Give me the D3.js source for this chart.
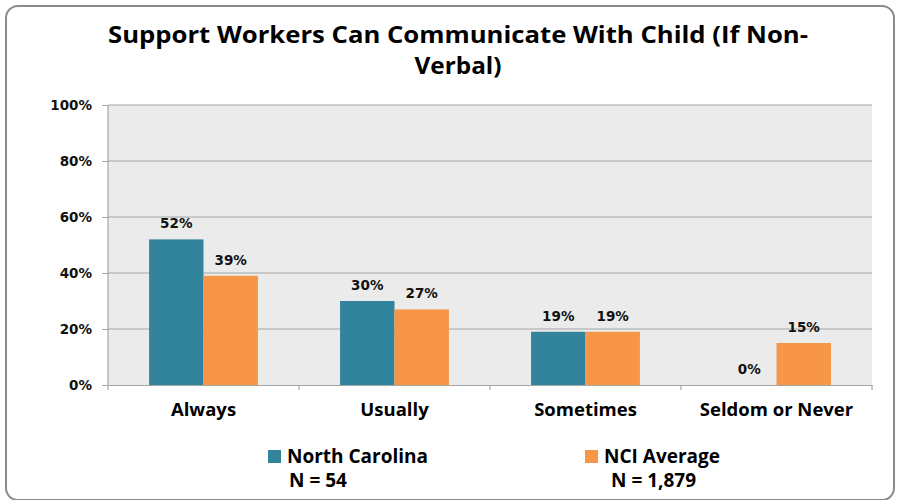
<!DOCTYPE html>
<html><head><meta charset="utf-8">
<script src="https://cdn.jsdelivr.net/npm/d3@7"></script>
<style>body{margin:0;background:#fff}svg{display:block}</style>
</head><body>
<script>
const categories = ["Always", "Usually", "Sometimes", "Seldom or Never"];
const seriesNames = ["North Carolina", "NCI Average"];
const seriesN = ["N = 54", "N = 1,879"];
const northCarolina = [52, 30, 19, 0];
const nciAverage = [39, 27, 19, 15];
const yTicks = [0, 20, 40, 60, 80, 100];
const colors = ["#31849B", "#F79646"];
const titleLines = ["Support Workers Can Communicate With Child (If Non-", "Verbal)"];

const W = 898, H = 500;
const m = {left:108, right:26, top:105, bottom:115};
const pw = W - m.left - m.right, ph = H - m.top - m.bottom;

const svg = d3.select("body").append("svg").attr("width", W).attr("height", H);
svg.append("rect").attr("x", 6).attr("y", 6).attr("width", 888).attr("height", 494)
  .attr("rx", 12).attr("fill", "#fff").attr("stroke", "#8c8c8c").attr("stroke-width", 2);

const titleFont = "'Open Sans', Lato, sans-serif";
const bodyFont = "'DejaVu Sans', Verdana, sans-serif";

const titleWidths = [700, 87];
svg.append("g").selectAll("text").data(titleLines).join("text")
  .attr("x", 458).attr("y", (d, i) => 43 + i * 31)
  .attr("text-anchor", "middle").attr("font-family", titleFont)
  .attr("textLength", (d, i) => titleWidths[i]).attr("lengthAdjust", "spacingAndGlyphs")
  .attr("font-weight", "bold").attr("font-size", 24).attr("fill", "#000").text(d => d);

const g = svg.append("g").attr("transform", `translate(${m.left},${m.top})`);
const x = d3.scaleBand().domain(categories).range([0, pw]).paddingInner(0).paddingOuter(0);
const x1 = d3.scaleBand().domain([0, 1]).range([x.bandwidth() * 0.215, x.bandwidth() * 0.785]);
const y = d3.scaleLinear().domain([0, 100]).range([ph, 0]);

g.append("rect").attr("width", pw).attr("height", ph).attr("fill", "#EBEBEB");

g.append("g").selectAll("line").data(yTicks.filter(t => t > 0)).join("line")
  .attr("x1", 0).attr("x2", pw).attr("y1", d => y(d)).attr("y2", d => y(d))
  .attr("stroke", "#A6A6A6").attr("stroke-width", 1.2);

const yAxis = g.append("g").call(d3.axisLeft(y).tickValues(yTicks).tickFormat(d => d + "%").tickSize(6).tickPadding(10));
yAxis.select(".domain").attr("stroke", "#A6A6A6").attr("stroke-width", 1.2).attr("d", `M0,0V${ph}`);
yAxis.selectAll(".tick line").attr("stroke", "#A6A6A6");
yAxis.selectAll("text").attr("font-family", bodyFont).attr("font-weight", "bold").attr("font-size", 13.5).attr("fill", "#111");

const series = [northCarolina, nciAverage];
const groups = g.append("g").selectAll("g").data(categories).join("g")
  .attr("transform", d => `translate(${x(d)},0)`);
groups.selectAll("rect").data((d, i) => series.map((s, k) => ({k, v: s[i]}))).join("rect")
  .attr("x", d => x1(d.k)).attr("width", x1.bandwidth())
  .attr("y", d => y(d.v)).attr("height", d => ph - y(d.v))
  .attr("fill", d => colors[d.k]);
groups.selectAll("text").data((d, i) => series.map((s, k) => ({k, v: s[i]}))).join("text")
  .attr("x", d => x1(d.k) + x1.bandwidth() / 2).attr("y", d => y(d.v) - 11)
  .attr("text-anchor", "middle").attr("font-family", bodyFont).attr("font-weight", "bold")
  .attr("font-size", 13.5).attr("fill", "#111").text(d => d.v + "%");

const xAxis = g.append("g").attr("transform", `translate(0,${ph})`)
  .call(d3.axisBottom(x).tickSize(0).tickPadding(18));
xAxis.select(".domain").attr("stroke", "#A6A6A6").attr("stroke-width", 1.2);
xAxis.selectAll("text").attr("font-family", titleFont).attr("font-weight", "bold").attr("font-size", 18.5).attr("fill", "#000");
g.append("g").selectAll("line").data(d3.range(categories.length + 1)).join("line")
  .attr("x1", i => i * x.step()).attr("x2", i => i * x.step())
  .attr("y1", ph).attr("y2", ph + 5).attr("stroke", "#A6A6A6").attr("stroke-width", 1.2);

const legX = [268, 585];
const leg = svg.append("g").selectAll("g").data(seriesNames).join("g")
  .attr("transform", (d, i) => `translate(${legX[i]},450)`);
leg.append("rect").attr("width", 13).attr("height", 13).attr("fill", (d, i) => colors[i]);
leg.append("text").attr("x", 19).attr("y", 13).attr("font-family", titleFont)
  .attr("font-weight", "bold").attr("font-size", 19).attr("fill", "#000").text(d => d);
leg.append("text").attr("x", (d, i) => i === 0 ? 21 : 26).attr("y", 37).attr("font-family", titleFont)
  .attr("font-weight", "bold").attr("font-size", 19).attr("fill", "#000").text((d, i) => seriesN[i]);
</script>
</body></html>
